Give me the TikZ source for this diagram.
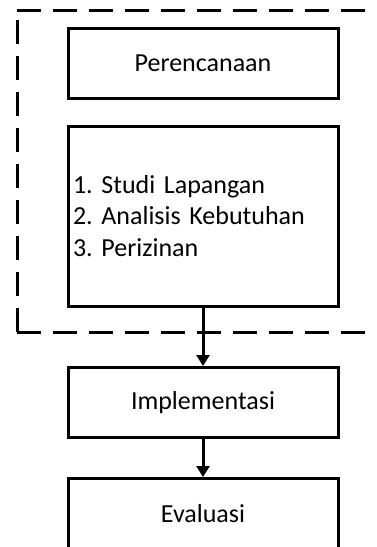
\documentclass[tikz,border=0pt]{standalone}
\usepackage{fontspec}
\setmainfont{Carlito}
\usetikzlibrary{arrows.meta}
\frenchspacing

\begin{document}
\begin{tikzpicture}[%
      x=1pt, y=-1pt,
      stepbox/.style={draw=black, line width=3pt, minimum width=270pt,
        minimum height=70pt, font=\fontsize{26}{31.7}\selectfont},
      listbox/.style={stepbox, minimum height=180pt, align=left,
        text width=260pt, inner xsep=5pt},
      groupline/.style={draw=black, line width=3pt, dash pattern=on 24pt off 12pt},
      flow/.style={line width=3pt, -{Triangle[width=13pt,length=11pt]}},
      ]
      \useasboundingbox (0,0) rectangle (376,547);
      \clip (0,0) rectangle (376,547);

      % dashed group around the planning stage
      \draw [groupline] (17,10) -- (400,10);
      \draw [groupline] (17,332) -- (17,10);
      \draw [groupline] (17,332) -- (400,332);

      \node [stepbox] (plan) at (203,63) {Perencanaan};
      \node [listbox] (tasks) at (203,216) {1. Studi Lapangan\\2. Analisis Kebutuhan\\3. Perizinan};
      \node [stepbox] (impl) at (203,402.5) {Implementasi};
      \node [stepbox] (eval) at (203,513.5) {Evaluasi};

      \draw [flow] (tasks.south) -- (impl.north);
      \draw [flow] (impl.south) -- (eval.north);
      \end{tikzpicture}
\end{document}
